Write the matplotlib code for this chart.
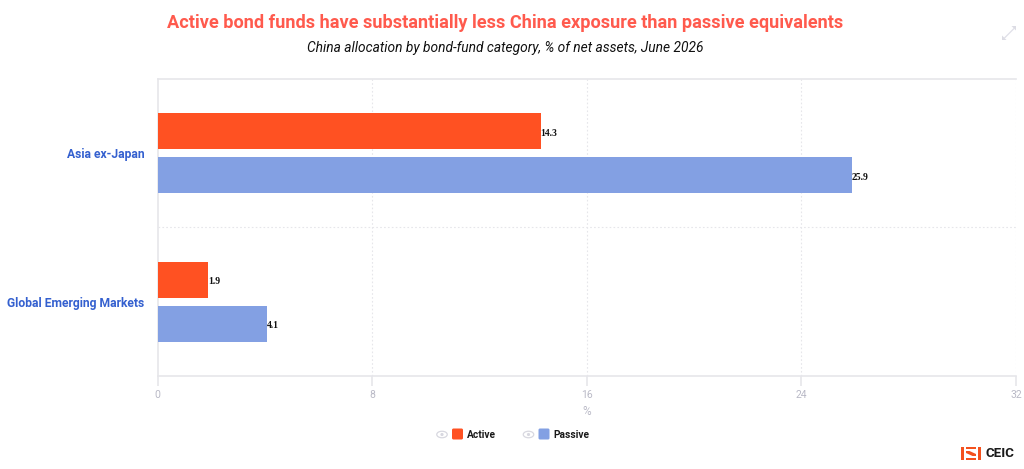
import matplotlib
matplotlib.use('Agg')
import matplotlib.pyplot as plt
from matplotlib.patches import Ellipse, Circle, FancyBboxPatch, Polygon, Rectangle

categories = ['Asia ex-Japan', 'Global Emerging Markets']
active = [14.3, 1.9]
passive = [25.9, 4.1]
xticks = [0, 8, 16, 24, 32]

col_active = '#ff5122'
col_passive = '#83a0e3'
col_label = '#3460cf'
col_tick = '#b9b9c6'
col_grid = '#e6e6ea'
col_logo = '#f4511e'

plt.rcParams['font.family'] = ['Roboto', 'DejaVu Sans']

W, H = 1024, 469
fig = plt.figure(figsize=(W / 100, H / 100), dpi=100)

# plot area in pixels: x 157.5-1016, y 79-376
ax = fig.add_axes([157.5 / W, 1 - 376 / H, 858.5 / W, 297 / H])

pos = [0.5, 1.5]
bar_h = 0.2424
off = 0.148
ax.barh([p - off for p in pos], active, height=bar_h, color=col_active, zorder=3)
ax.barh([p + off for p in pos], passive, height=bar_h, color=col_passive, zorder=3)

for i in range(len(pos)):
    ax.annotate(str(active[i]), (active[i], pos[i] - off), xytext=(-0.5, -1.5), textcoords='offset points',
                va='center', ha='left', fontsize=7, fontweight='bold',
                family=['Liberation Serif'], color='#111111', zorder=4)
    ax.annotate(str(passive[i]), (passive[i], pos[i] + off), xytext=(-0.5, -1.5), textcoords='offset points',
                va='center', ha='left', fontsize=7, fontweight='bold',
                family=['Liberation Serif'], color='#111111', zorder=4)

ax.set_xlim(0, 32)
ax.set_ylim(2, 0)
ax.set_xticks(xticks)
ax.set_xticklabels([str(t) for t in xticks], fontsize=7.5, color=col_tick)
ax.set_yticks(pos)
ax.set_yticklabels(categories, fontsize=8.7, fontweight='bold', color=col_label)
ax.tick_params(axis='y', length=0, pad=9.5)
ax.tick_params(axis='x', length=7, width=1.2, color=col_grid, pad=3)

# grid is dotted in both directions
for t in xticks[1:-1]:
    ax.axvline(t, color=col_grid, lw=0.8, ls=(0, (1.5, 2)), zorder=1)
ax.axhline(1, color=col_grid, lw=0.8, ls=(0, (1.5, 2)), zorder=1)
ax.axvline(32, color=col_grid, lw=0.8, ls=(0, (1.5, 2)), zorder=1)

for side in ['left', 'bottom', 'top']:
    ax.spines[side].set_color(col_grid)
    ax.spines[side].set_linewidth(1.2)
ax.spines['right'].set_visible(False)

ax.set_xlabel('%', fontsize=8.5, color=col_tick, labelpad=3.5)

# overlay in pixel coordinates for the title, legend and icons
ov = fig.add_axes([0, 0, 1, 1], zorder=5)
ov.set_xlim(0, W)
ov.set_ylim(H, 0)
ov.axis('off')
ov.patch.set_alpha(0)

ov.text(505.5, 23, 'Active bond funds have substantially less China exposure than passive equivalents',
        ha='center', va='center', fontsize=13.1, fontweight='bold', color='#ff5a4d')
ov.text(505, 48, 'China allocation by bond-fund category, % of net assets, June 2026',
        ha='center', va='center', fontsize=9.9, style='italic', color='#111111')

# expand icon
ov.plot([1004, 1014], [38.5, 28.5], color='#e0e0e8', lw=0.9)
ov.add_patch(Polygon([[1002, 40], [1002, 35.5], [1006.5, 40]], fc='#dcdce4', lw=0))
ov.add_patch(Polygon([[1016, 26], [1016, 30.5], [1011.5, 26]], fc='#dcdce4', lw=0))

# legend
for x_eye, x_box, name, col, x_txt in [(442, 452, 'Active', col_active, 467),
                                       (528.5, 538.5, 'Passive', col_passive, 553.5)]:
    ov.add_patch(Ellipse((x_eye, 434.5), 10.5, 6.5, fc='none', ec='#d8d8e0', lw=0.9))
    ov.add_patch(Circle((x_eye, 434.5), 1.6, fc='#d8d8e0', ec='none'))
    ov.add_patch(FancyBboxPatch((x_box + 1, 429.5), 9, 9, boxstyle='round,pad=1,rounding_size=1.5',
                                fc=col, ec='none'))
    ov.text(x_txt, 434.5, name, ha='left', va='center', fontsize=7.3, fontweight='bold', color='#1a1a1a')

# CEIC logo
ov.add_patch(Rectangle((961, 447), 3, 13, fc=col_logo, lw=0))
ov.add_patch(Rectangle((978, 447), 3, 13, fc=col_logo, lw=0))
ov.add_patch(Rectangle((966, 447), 10, 2.2, fc=col_logo, lw=0))
ov.add_patch(Rectangle((966, 457.8), 10, 2.2, fc=col_logo, lw=0))
ov.add_patch(Polygon([[966, 451], [969.5, 451], [976, 454], [976, 456], [972.5, 456], [966, 453]], fc=col_logo, lw=0))
ov.text(986, 453.5, 'CEIC', ha='left', va='center', fontsize=9.6, fontweight='bold', color='#1a1a1a')

fig.savefig('out.png', dpi=100)
